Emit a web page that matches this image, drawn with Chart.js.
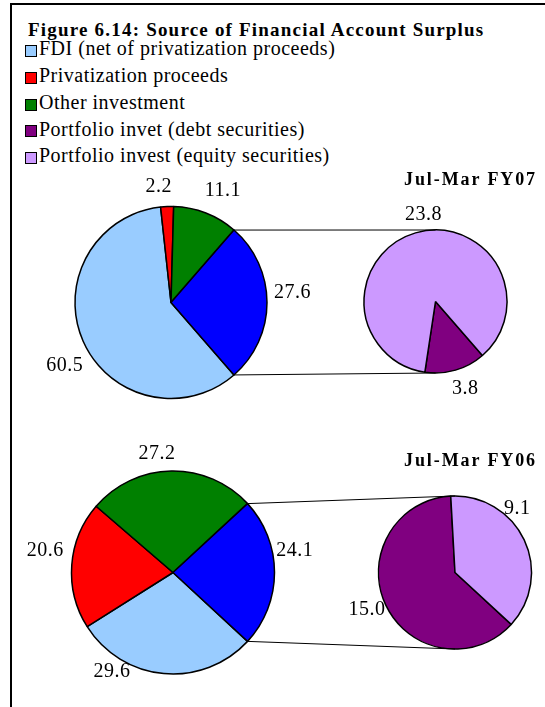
<!DOCTYPE html>
<html><head><meta charset="utf-8">
<script src="https://cdn.jsdelivr.net/npm/chart.js@4.4.0/dist/chart.umd.min.js"></script>
<style>
html,body{margin:0;padding:0;background:#fff;overflow:hidden;width:545px;height:707px;position:relative;}
#frame{position:absolute;left:10px;top:3px;width:600px;height:800px;border-left:2px solid #000;border-top:2px solid #000;}
.t{position:absolute;font-family:"Liberation Serif","Times New Roman",serif;color:#000;white-space:nowrap;line-height:1;}
#title{left:28px;top:20px;font-size:19px;font-weight:bold;letter-spacing:1.2px;}
.legtxt{left:39px;font-size:20px;letter-spacing:0.5px;}
.sq{position:absolute;left:25px;width:10px;height:10px;border:1px solid #000;}
.ptitle{right:8px;font-size:18px;font-weight:bold;letter-spacing:1.9px;}
canvas{position:absolute;left:0;top:0;}
</style>
</head><body>
<div id="frame"></div>
<div id="title" class="t">Figure 6.14: Source of Financial Account Surplus</div>
<div id="legend"></div>
<canvas id="c1" width="545" height="707"></canvas>
<canvas id="c2" width="545" height="707"></canvas>
<canvas id="c3" width="545" height="707"></canvas>
<canvas id="c4" width="545" height="707"></canvas>
<div id="pt1" class="t ptitle"></div>
<div id="pt2" class="t ptitle"></div>
<script>
// ---------- DATA ----------
const legendLabels = ['FDI (net of privatization proceeds)', 'Privatization proceeds', 'Other investment', 'Portfolio invet (debt securities)', 'Portfolio invest (equity securities)'];
const mainCategories = ['FDI (net of privatization proceeds)', 'Privatization proceeds', 'Other investment', 'Portfolio investment'];
const portfolioCategories = ['Portfolio invet (debt securities)', 'Portfolio invest (equity securities)'];
const periods = ['Jul-Mar FY07', 'Jul-Mar FY06'];
const fy07Main = [60.5, 2.2, 11.1, 27.6];
const fy07Portfolio = [3.8, 23.8];
const fy06Main = [29.6, 20.6, 27.2, 24.1];
const fy06Portfolio = [15.0, 9.1];

// ---------- STYLE ----------
const legendColors = ['#99CCFF', '#FF0000', '#008000', '#800080', '#CC99FF'];
const mainColors = ['#99CCFF', '#FF0000', '#008000', '#0000FF'];
const portfolioColors = ['#800080', '#CC99FF'];
const W = 545, H = 707;
const legendBaseline0 = 55, legendStep = 26.8;
const pies = [
  {canvas: 'c1', cx: 171, cy: 302.5, r: 96},
  {canvas: 'c2', cx: 435.5, cy: 301.5, r: 71.5},
  {canvas: 'c3', cx: 173, cy: 572.5, r: 101.5},
  {canvas: 'c4', cx: 455, cy: 572.5, r: 76.5}
];
// label placement: angular shift (deg, clockwise) and gap beyond the rim (px)
const labelShift = [[-6.7, -3.6, 3.2, -5.2], [-3, 8.5], [26.8, 6.2, -6.6, -10.9], [3.3, -21.4]];
const labelGap = [[27, 22, 29, 26], [19, 18], [13.5, 28.5, 20, 22.5], [18.4, 14]];
const periodBaselines = [185, 466];

// ---------- LEGEND / TITLES ----------
const legend = document.getElementById('legend');
legendLabels.forEach((lab, i) => {
  const base = legendBaseline0 + i * legendStep;
  const sq = document.createElement('div');
  sq.className = 'sq';
  sq.style.top = (base - 10) + 'px';
  sq.style.background = legendColors[i];
  legend.appendChild(sq);
  const tx = document.createElement('div');
  tx.className = 't legtxt';
  tx.style.top = (base - 16.75) + 'px';
  tx.textContent = lab;
  legend.appendChild(tx);
});
['pt1', 'pt2'].forEach((id, i) => {
  const el = document.getElementById(id);
  el.textContent = periods[i];
  el.style.top = (periodBaselines[i] - 15.1) + 'px';
});

// ---------- PLUGINS ----------
const sliceLabels = {
  id: 'sliceLabels',
  afterDatasetsDraw(chart, args, opts) {
    const meta = chart.getDatasetMeta(0);
    const data = chart.data.datasets[0].data;
    const ctx = chart.ctx;
    ctx.save();
    ctx.font = '20px "Liberation Serif", "Times New Roman", serif';
    ctx.letterSpacing = '0.5px';
    ctx.fillStyle = '#000';
    ctx.textAlign = 'center';
    ctx.textBaseline = 'alphabetic';
    meta.data.forEach((arc, i) => {
      const a = (arc.startAngle + arc.endAngle) / 2 + (opts.shift[i] || 0) * Math.PI / 180;
      const d = arc.outerRadius + (opts.gap[i] || 0);
      const x = arc.x + Math.cos(a) * d;
      const y = arc.y + Math.sin(a) * d;
      ctx.fillText(Number(data[i]).toFixed(1), x, y + 6.8);
    });
    ctx.restore();
  }
};
function connector(mainChart) {
  return {
    id: 'connector',
    afterDraw(chart) {
      const mArc = mainChart.getDatasetMeta(0).data[3];
      const sArc = chart.getDatasetMeta(0).data[0];
      const R = mArc.outerRadius, r2 = sArc.outerRadius;
      const ctx = chart.ctx;
      ctx.save();
      ctx.strokeStyle = '#000';
      ctx.lineWidth = 1;
      ctx.beginPath();
      ctx.moveTo(mArc.x + Math.cos(mArc.startAngle) * R, mArc.y + Math.sin(mArc.startAngle) * R);
      ctx.lineTo(sArc.x, sArc.y - r2);
      ctx.moveTo(mArc.x + Math.cos(mArc.endAngle) * R, mArc.y + Math.sin(mArc.endAngle) * R);
      ctx.lineTo(sArc.x, sArc.y + r2);
      ctx.stroke();
      ctx.restore();
    }
  };
}

function makePie(p, labels, values, colors, rotation, idx, extraPlugins) {
  return new Chart(document.getElementById(p.canvas), {
    type: 'pie',
    data: {
      labels: labels,
      datasets: [{data: values, backgroundColor: colors, borderColor: '#000', borderWidth: 1.5}]
    },
    options: {
      responsive: false,
      devicePixelRatio: 1,
      animation: false,
      events: [],
      rotation: rotation,
      radius: p.r,
      layout: {padding: {left: p.cx - 10, right: W - p.cx - 10, top: p.cy - 10, bottom: H - p.cy - 10}},
      plugins: {
        legend: {display: false},
        tooltip: {enabled: false},
        title: {display: false},
        sliceLabels: {shift: labelShift[idx], gap: labelGap[idx]}
      }
    },
    plugins: [sliceLabels].concat(extraPlugins || [])
  });
}

// Excel pie-of-pie: split slice (portfolio) centred at 3 o'clock
function rotationFor(vals) {
  const tot = vals.reduce((a, b) => a + b, 0);
  return 90 + (vals[3] / tot * 360) / 2;
}
const rot07 = rotationFor(fy07Main);
const rot06 = rotationFor(fy06Main);
const m07 = makePie(pies[0], mainCategories, fy07Main, mainColors, rot07, 0);
makePie(pies[1], portfolioCategories, fy07Portfolio, portfolioColors, rot07, 1, [connector(m07)]);
const m06 = makePie(pies[2], mainCategories, fy06Main, mainColors, rot06, 2);
makePie(pies[3], portfolioCategories, fy06Portfolio, portfolioColors, rot06, 3, [connector(m06)]);
</script>
</body></html>
